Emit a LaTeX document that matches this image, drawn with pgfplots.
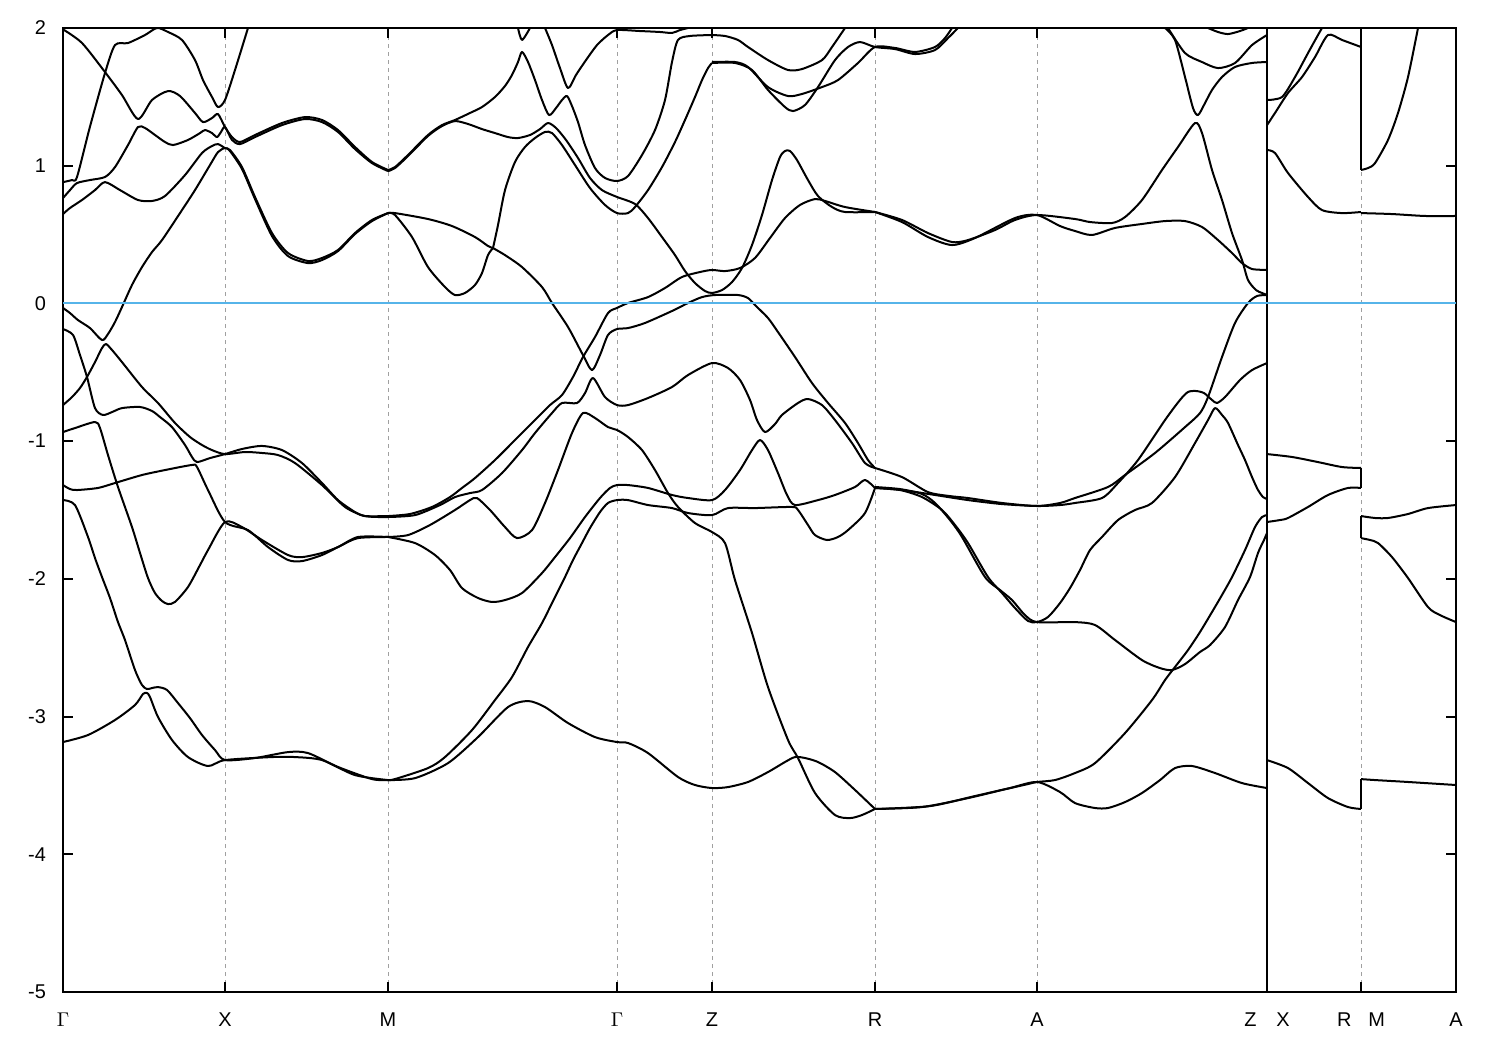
\documentclass[border=0pt]{standalone}
\usepackage{pgfplots}
\pgfplotsset{compat=1.18}
\usepackage{fontspec}
\setmainfont{Liberation Sans}
\definecolor{zeroblue}{RGB}{86,180,233}
\definecolor{gridgray}{RGB}{160,160,160}
\pgfplotsset{band/.style={black, line width=1bp, smooth, tension=0.45, mark=none, line join=round}}
\begin{document}
\begin{tikzpicture}
\begin{axis}[
  scale only axis, width=696.5bp, height=482bp,
  xmin=63, xmax=1456, ymin=-5, ymax=2,
  axis line style={line width=1bp},
  xtick={63,225,388,617,712,875,1037,1267,1361,1456},
  xticklabels={$\Gamma$,X,M,$\Gamma$,Z,R,A,Z\hspace{10bp}X,R\hspace{8.5bp}M,A},
  ytick={-5,-4,-3,-2,-1,0,1,2},
  yticklabels={-5,-4,-3,-2,-1,0,1,2},
  tick align=inside, major tick length=5bp,
  tick style={black, line width=1bp},
  every tick label/.append style={font=\fontsize{10}{12}\selectfont},
  xticklabel style={yshift=-7bp},
  yticklabel style={xshift=-5bp},
  xmajorgrids, major grid style={gridgray, dash pattern=on 2bp off 2bp, line width=0.5bp},
]
\coordinate (sw) at (rel axis cs:0,0);
\coordinate (ne) at (rel axis cs:1,1);
% ---- Gamma - X upper
\addplot[band] coordinates {(63,1.99)(82,1.891)(105,1.680)(122,1.513)(138,1.339)(152,1.477)(168,1.542)(180,1.506)(195,1.383)(203,1.317)(212,1.346)(218,1.375)(225,1.281)(232,1.208)(240,1.172)(255,1.223)(282,1.310)(305,1.353)(322,1.332)(338,1.259)(355,1.136)(372,1.027)(388,0.969)};
\addplot[band] coordinates {(63,0.881)(72,0.896)(77,0.918)(90,1.284)(105,1.673)(115,1.876)(128,1.891)(145,1.949)(157,2.0)(168,1.971)(182,1.913)(195,1.767)(203,1.622)(212,1.499)(218,1.426)(225,1.477)(235,1.695)(248,2.0)};
\addplot[band] coordinates {(63,0.765)(70,0.823)(77,0.874)(90,0.896)(105,0.918)(115,0.990)(128,1.150)(138,1.281)(145,1.274)(155,1.223)(165,1.172)(173,1.150)(188,1.187)(200,1.237)(205,1.259)(212,1.237)(217,1.208)(221,1.245)(225,1.281)(232,1.187)(240,1.157)(255,1.208)(282,1.295)(305,1.339)(322,1.317)(338,1.245)(355,1.121)(372,1.019)(388,0.961)};
\addplot[band] coordinates {(63,0.649)(70,0.693)(82,0.751)(95,0.823)(105,0.881)(120,0.823)(138,0.751)(152,0.744)(165,0.780)(185,0.932)(202,1.092)(212,1.143)(218,1.157)(225,1.128)(230,1.114)(242,0.990)(255,0.773)(272,0.511)(288,0.366)(308,0.308)(322,0.330)(338,0.388)(355,0.511)(372,0.606)(388,0.656)};
\addplot[band] coordinates {(63,-0.033)(70,-0.070)(78,-0.121)(90,-0.179)(102,-0.266)(108,-0.222)(115,-0.135)(122,-0.026)(132,0.134)(142,0.264)(152,0.373)(162,0.460)(180,0.656)(195,0.823)(210,1.005)(218,1.099)(225,1.128)(230,1.106)(242,0.976)(255,0.758)(272,0.489)(288,0.344)(308,0.293)(322,0.315)(338,0.380)(355,0.504)(372,0.598)(388,0.656)};
% ---- Gamma - X lower
\addplot[band] coordinates {(63,-0.186)(73,-0.229)(80,-0.375)(87,-0.534)(95,-0.760)(103,-0.810)(112,-0.789)(122,-0.760)(140,-0.752)(152,-0.781)(160,-0.825)(172,-0.898)(185,-1.028)(192,-1.115)(197,-1.152)(210,-1.123)(225,-1.094)(242,-1.057)(262,-1.035)(282,-1.065)(302,-1.159)(322,-1.304)(338,-1.428)(355,-1.515)(365,-1.544)(388,-1.544)};
\addplot[band] coordinates {(63,-0.738)(72,-0.680)(80,-0.614)(87,-0.534)(95,-0.426)(102,-0.324)(106,-0.295)(112,-0.338)(122,-0.426)(142,-0.607)(158,-0.723)(175,-0.868)(190,-0.970)(202,-1.028)(212,-1.065)(225,-1.094)(245,-1.079)(262,-1.086)(278,-1.101)(295,-1.159)(322,-1.319)(345,-1.478)(365,-1.544)(388,-1.551)};
\addplot[band] coordinates {(63,-0.934)(75,-0.905)(95,-0.861)(100,-0.905)(108,-1.101)(118,-1.333)(132,-1.624)(140,-1.812)(148,-1.994)(155,-2.103)(162,-2.161)(168,-2.183)(175,-2.168)(188,-2.059)(200,-1.900)(208,-1.791)(225,-1.587)(242,-1.624)(262,-1.718)(288,-1.827)(302,-1.842)(322,-1.812)(338,-1.769)(358,-1.696)(388,-1.696)};
\addplot[band] coordinates {(63,-1.319)(70,-1.348)(77,-1.355)(98,-1.340)(115,-1.304)(142,-1.246)(165,-1.210)(192,-1.173)(197,-1.188)(208,-1.355)(225,-1.587)(248,-1.646)(268,-1.769)(288,-1.863)(302,-1.871)(322,-1.827)(340,-1.762)(358,-1.704)(388,-1.696)};
\addplot[band] coordinates {(63,-1.428)(75,-1.464)(88,-1.696)(95,-1.849)(102,-1.987)(110,-2.139)(118,-2.314)(125,-2.444)(135,-2.662)(142,-2.771)(147,-2.800)(152,-2.793)(158,-2.786)(167,-2.807)(178,-2.902)(190,-3.011)(202,-3.134)(215,-3.243)(225,-3.316)(255,-3.301)(288,-3.258)(308,-3.265)(338,-3.366)(372,-3.454)(388,-3.461)};
\addplot[band] coordinates {(63,-3.185)(88,-3.134)(115,-3.025)(135,-2.916)(143,-2.836)(147,-2.829)(150,-2.858)(158,-3.003)(172,-3.170)(188,-3.294)(208,-3.359)(225,-3.316)(272,-3.294)(295,-3.294)(322,-3.316)(355,-3.425)(388,-3.461)};
% ---- M - Gamma - Z upper
\addplot[band] coordinates {(388,0.969)(395,0.990)(408,1.078)(428,1.223)(442,1.295)(455,1.332)(470,1.383)(482,1.426)(495,1.499)(505,1.579)(512,1.659)(518,1.753)(522,1.826)(528,1.753)(535,1.622)(542,1.477)(549,1.368)(556,1.419)(562,1.477)(567,1.506)(572,1.433)(578,1.317)(585,1.150)(595,0.983)(605,0.911)(617,0.889)(628,0.925)(642,1.078)(655,1.259)(665,1.477)(672,1.753)(678,1.913)(690,1.942)(712,1.949)};
\addplot[band] coordinates {(388,0.961)(395,0.983)(408,1.070)(428,1.216)(442,1.288)(455,1.324)(468,1.303)(482,1.266)(495,1.237)(508,1.208)(518,1.201)(530,1.223)(540,1.266)(548,1.310)(556,1.274)(566,1.187)(578,1.056)(590,0.911)(602,0.823)(617,0.773)(635,0.722)(648,0.620)(662,0.482)(675,0.351)(685,0.235)(695,0.148)(705,0.090)(712,0.076)(722,0.097)(732,0.155)(742,0.257)(752,0.424)(762,0.642)(772,0.896)(780,1.063)(785,1.107)(790,1.107)(797,1.041)(808,0.896)(818,0.780)(832,0.700)(845,0.664)(875,0.664)};
\addplot[band] coordinates {(493,0.402)(498,0.569)(505,0.823)(515,1.027)(525,1.136)(535,1.201)(545,1.245)(552,1.237)(562,1.150)(575,1.005)(590,0.838)(605,0.715)(617,0.656)(628,0.656)(635,0.700)(648,0.823)(662,0.990)(675,1.172)(685,1.332)(695,1.499)(702,1.622)(708,1.709)(712,1.746)};
\addplot[band] coordinates {(545,2.0)(552,1.876)(560,1.709)(568,1.564)(576,1.659)(586,1.767)(597,1.876)(608,1.949)(617,1.985)(640,1.978)(660,1.971)(672,1.964)(680,1.985)(688,2.0)};
\addplot[band] coordinates {(518,2.0)(522,1.913)(530,2.0)};
\addplot[band] coordinates {(388,0.656)(395,0.656)(428,0.613)(452,0.562)(475,0.482)(488,0.417)(493,0.402)};
\addplot[band] coordinates {(388,0.656)(395,0.642)(412,0.482)(428,0.264)(445,0.119)(455,0.061)(465,0.076)(475,0.134)(482,0.221)(488,0.351)(493,0.402)};
\addplot[band] coordinates {(493,0.402)(505,0.351)(522,0.264)(542,0.119)(552,0.003)(568,-0.171)(583,-0.375)(592,-0.484)(600,-0.375)(608,-0.229)(617,-0.186)(628,-0.179)(645,-0.142)(672,-0.055)(688,0.003)(702,0.046)(715,0.061)(738,0.061)(748,0.039)(755,-0.012)(768,-0.106)(778,-0.208)(795,-0.389)(812,-0.578)(828,-0.723)(845,-0.868)(858,-1.014)(868,-1.137)(875,-1.195)};
% ---- M - Gamma - Z lower
\addplot[band] coordinates {(388,-1.544)(410,-1.529)(432,-1.478)(450,-1.406)(462,-1.340)(475,-1.268)(495,-1.137)(515,-0.992)(535,-0.847)(550,-0.738)(562,-0.665)(573,-0.534)(583,-0.389)(595,-0.244)(608,-0.070)(617,-0.033)(628,0.003)(648,0.046)(665,0.112)(682,0.192)(700,0.228)(712,0.243)(725,0.235)(740,0.257)(755,0.330)(770,0.475)(785,0.620)(800,0.715)(815,0.758)(825,0.744)(845,0.700)(875,0.664)};
\addplot[band] coordinates {(388,-1.551)(415,-1.537)(440,-1.464)(455,-1.406)(470,-1.377)(482,-1.355)(502,-1.232)(522,-1.065)(535,-0.941)(552,-0.796)(562,-0.723)(577,-0.723)(585,-0.651)(593,-0.542)(605,-0.680)(617,-0.738)(628,-0.738)(648,-0.687)(672,-0.607)(688,-0.520)(712,-0.433)(728,-0.469)(740,-0.556)(750,-0.701)(757,-0.847)(765,-0.934)(775,-0.876)(782,-0.810)(798,-0.723)(808,-0.694)(822,-0.738)(835,-0.847)(852,-1.014)(865,-1.159)(875,-1.195)};
\addplot[band] coordinates {(388,-1.696)(408,-1.682)(430,-1.609)(455,-1.500)(470,-1.428)(477,-1.413)(490,-1.500)(505,-1.624)(517,-1.704)(532,-1.646)(545,-1.449)(558,-1.210)(572,-0.941)(583,-0.796)(595,-0.832)(608,-0.898)(617,-0.919)(628,-0.970)(642,-1.065)(655,-1.210)(668,-1.377)(678,-1.478)(695,-1.595)(712,-1.660)(725,-1.740)(735,-2.009)(752,-2.393)(768,-2.786)(788,-3.170)(798,-3.301)(815,-3.555)(835,-3.715)(850,-3.737)(862,-3.715)(875,-3.671)};
\addplot[band] coordinates {(388,-1.696)(415,-1.740)(435,-1.827)(450,-1.936)(462,-2.067)(478,-2.139)(492,-2.168)(505,-2.154)(522,-2.103)(542,-1.958)(555,-1.842)(570,-1.704)(585,-1.551)(600,-1.413)(610,-1.340)(617,-1.319)(628,-1.319)(648,-1.340)(672,-1.391)(688,-1.413)(712,-1.428)(725,-1.355)(740,-1.210)(752,-1.065)(760,-0.992)(768,-1.065)(778,-1.232)(787,-1.391)(795,-1.464)(818,-1.428)(835,-1.391)(855,-1.333)(865,-1.282)(875,-1.340)};
\addplot[band] coordinates {(388,-3.461)(395,-3.454)(428,-3.374)(445,-3.294)(472,-3.098)(495,-2.880)(512,-2.713)(528,-2.495)(542,-2.321)(555,-2.132)(565,-1.987)(573,-1.863)(582,-1.740)(590,-1.631)(600,-1.515)(608,-1.449)(617,-1.428)(628,-1.428)(648,-1.464)(672,-1.486)(688,-1.522)(712,-1.537)(728,-1.486)(755,-1.486)(792,-1.478)(798,-1.500)(808,-1.609)(815,-1.682)(827,-1.718)(838,-1.696)(848,-1.646)(865,-1.522)(875,-1.340)};
\addplot[band] coordinates {(388,-3.461)(415,-3.447)(448,-3.338)(478,-3.149)(508,-2.931)(528,-2.887)(545,-2.931)(568,-3.047)(595,-3.149)(617,-3.185)(628,-3.192)(648,-3.265)(678,-3.439)(695,-3.497)(712,-3.519)(728,-3.512)(748,-3.475)(768,-3.403)(785,-3.330)(795,-3.294)(805,-3.301)(818,-3.330)(835,-3.403)(855,-3.533)(875,-3.671)};
% ---- Z - R top
\addplot[band] coordinates {(712,1.949)(725,1.942)(738,1.913)(748,1.862)(768,1.767)(788,1.695)(802,1.702)(822,1.767)(832,1.862)(845,2.0)};
\addplot[band] coordinates {(712,1.753)(735,1.753)(748,1.717)(768,1.571)(788,1.506)(802,1.521)(822,1.571)(838,1.622)(858,1.746)(875,1.862)(895,1.855)(915,1.826)(935,1.862)(945,1.927)(952,2.0)};
\addplot[band] coordinates {(712,1.746)(735,1.746)(752,1.695)(768,1.550)(785,1.426)(793,1.397)(805,1.441)(818,1.571)(835,1.767)(848,1.862)(860,1.898)(875,1.862)(895,1.847)(915,1.811)(935,1.840)(948,1.927)(958,2.0)};
% ---- R - A
\addplot[band] coordinates {(875,0.664)(902,0.606)(928,0.511)(952,0.446)(968,0.460)(995,0.533)(1015,0.606)(1037,0.642)(1075,0.613)(1090,0.591)(1112,0.584)(1125,0.627)(1142,0.751)(1162,0.969)(1178,1.136)(1195,1.310)(1202,1.237)(1212,0.969)(1222,0.751)(1232,0.511)(1242,0.315)(1248,0.170)(1256,0.097)(1262,0.076)(1267,0.061)};
\addplot[band] coordinates {(875,0.664)(902,0.591)(928,0.482)(952,0.424)(975,0.475)(1015,0.620)(1037,0.642)(1060,0.562)(1075,0.526)(1092,0.497)(1115,0.548)(1142,0.577)(1165,0.598)(1185,0.598)(1202,0.555)(1218,0.460)(1232,0.366)(1242,0.293)(1252,0.250)(1267,0.243)};
\addplot[band] coordinates {(875,-1.195)(902,-1.261)(928,-1.370)(950,-1.399)(968,-1.413)(1002,-1.449)(1037,-1.471)(1060,-1.449)(1075,-1.413)(1108,-1.333)(1125,-1.246)(1155,-1.086)(1185,-0.898)(1200,-0.796)(1208,-0.680)(1222,-0.389)(1235,-0.142)(1248,0.003)(1257,0.054)(1267,0.061)};
\addplot[band] coordinates {(875,-1.340)(902,-1.355)(935,-1.391)(968,-1.428)(1002,-1.457)(1037,-1.471)(1060,-1.464)(1075,-1.449)(1102,-1.413)(1118,-1.304)(1138,-1.137)(1165,-0.847)(1180,-0.701)(1188,-0.643)(1196,-0.636)(1204,-0.651)(1212,-0.701)(1217,-0.723)(1225,-0.680)(1240,-0.556)(1252,-0.484)(1267,-0.433)};
\addplot[band] coordinates {(875,-1.340)(900,-1.355)(922,-1.406)(942,-1.500)(955,-1.609)(968,-1.740)(988,-1.987)(1002,-2.103)(1015,-2.212)(1028,-2.306)(1037,-2.314)(1048,-2.277)(1060,-2.176)(1070,-2.067)(1080,-1.936)(1090,-1.791)(1102,-1.696)(1118,-1.573)(1135,-1.500)(1152,-1.449)(1175,-1.261)(1195,-1.014)(1208,-0.847)(1215,-0.760)(1222,-0.810)(1228,-0.868)(1238,-1.028)(1245,-1.137)(1252,-1.261)(1258,-1.355)(1263,-1.406)(1267,-1.420)};
\addplot[band] coordinates {(875,-1.333)(900,-1.348)(922,-1.384)(935,-1.449)(950,-1.573)(962,-1.696)(985,-1.987)(1000,-2.081)(1012,-2.154)(1025,-2.263)(1037,-2.314)(1075,-2.314)(1095,-2.335)(1115,-2.444)(1142,-2.590)(1160,-2.648)(1172,-2.662)(1185,-2.619)(1200,-2.531)(1210,-2.481)(1225,-2.350)(1238,-2.154)(1250,-1.987)(1258,-1.812)(1264,-1.718)(1267,-1.667)};
\addplot[band] coordinates {(875,-3.671)(922,-3.657)(968,-3.592)(1002,-3.533)(1028,-3.490)(1037,-3.475)(1055,-3.461)(1075,-3.410)(1095,-3.338)(1125,-3.120)(1152,-2.880)(1165,-2.735)(1175,-2.640)(1188,-2.517)(1200,-2.386)(1212,-2.241)(1222,-2.117)(1232,-1.987)(1245,-1.791)(1255,-1.624)(1262,-1.551)(1267,-1.537)};
\addplot[band] coordinates {(875,-3.671)(930,-3.650)(975,-3.577)(1010,-3.519)(1037,-3.475)(1060,-3.548)(1075,-3.628)(1095,-3.664)(1108,-3.664)(1125,-3.621)(1142,-3.555)(1160,-3.461)(1175,-3.374)(1192,-3.359)(1215,-3.410)(1242,-3.483)(1267,-3.519)};
% ---- A - Z top
\addplot[band] coordinates {(1165,2.0)(1175,1.913)(1185,1.644)(1193,1.419)(1198,1.368)(1204,1.441)(1212,1.550)(1222,1.644)(1235,1.717)(1252,1.746)(1267,1.753)};
\addplot[band] coordinates {(1168,2.0)(1185,1.818)(1202,1.753)(1218,1.709)(1235,1.746)(1252,1.876)(1267,1.949)};
\addplot[band] coordinates {(1208,2.0)(1218,1.971)(1228,1.956)(1240,1.978)(1248,2.0)};
% ---- X - R and M - A
\addplot[band] coordinates {(1267,1.477)(1282,1.499)(1295,1.644)(1308,1.818)(1318,1.949)(1322,2.0)};
\addplot[band] coordinates {(1267,1.295)(1275,1.383)(1288,1.528)(1302,1.644)(1315,1.789)(1328,1.949)(1342,1.913)(1361,1.862)};
\addplot[band] coordinates {(1267,1.114)(1275,1.092)(1288,0.947)(1308,0.773)(1322,0.678)(1342,0.656)(1361,0.664)};
\addplot[band] coordinates {(1361,0.656)(1392,0.649)(1425,0.635)(1456,0.635)};
\addplot[band] coordinates {(1361,0.969)(1368,0.983)(1375,1.019)(1388,1.187)(1398,1.383)(1408,1.644)(1418,2.0)};
\addplot[band] coordinates {(1267,-1.094)(1292,-1.115)(1318,-1.152)(1342,-1.188)(1361,-1.195)};
\addplot[band] coordinates {(1267,-1.587)(1280,-1.573)(1288,-1.558)(1308,-1.478)(1328,-1.391)(1348,-1.340)(1361,-1.340)};
\addplot[band] coordinates {(1361,-1.544)(1375,-1.558)(1388,-1.558)(1408,-1.529)(1428,-1.486)(1456,-1.464)};
\addplot[band] coordinates {(1361,-1.704)(1370,-1.718)(1378,-1.740)(1392,-1.842)(1408,-1.994)(1428,-2.205)(1440,-2.263)(1456,-2.314)};
\addplot[band] coordinates {(1267,-3.316)(1288,-3.374)(1308,-3.483)(1328,-3.592)(1348,-3.657)(1361,-3.671)};
\addplot[band] coordinates {(1361,-3.454)(1375,-3.461)(1408,-3.475)(1456,-3.497)};
% ---- band jumps
\addplot[black, line width=1bp] coordinates {(1267,-5)(1267,2)};
\addplot[black, line width=1bp] coordinates {(1361,2)(1361,0.969)};
\addplot[black, line width=1bp] coordinates {(1361,-1.195)(1361,-1.340)};
\addplot[black, line width=1bp] coordinates {(1361,-1.544)(1361,-1.704)};
\addplot[black, line width=1bp] coordinates {(1361,-3.454)(1361,-3.671)};
% ---- zero line
\addplot[zeroblue, line width=1bp] coordinates {(63,0)(1456,0)};
\end{axis}
\pgfresetboundingbox
\path ([shift={(-31.5bp,-29bp)}]sw) rectangle ([shift={(22bp,14bp)}]ne);
\end{tikzpicture}
\end{document}
